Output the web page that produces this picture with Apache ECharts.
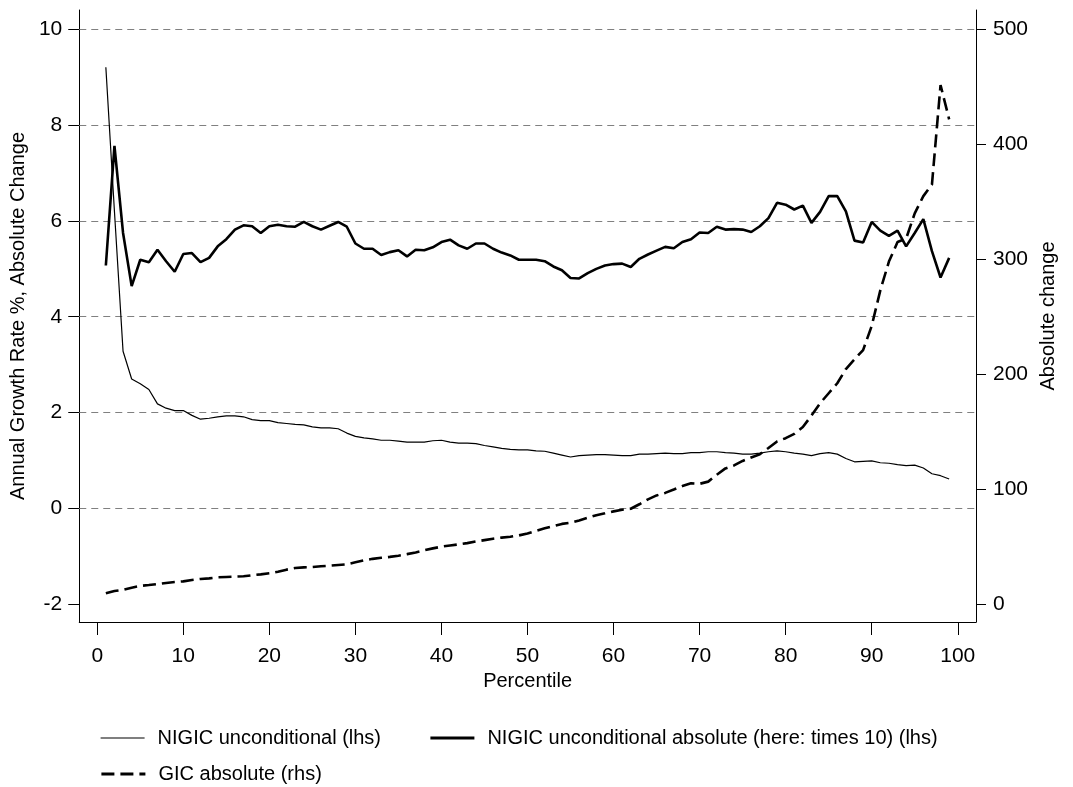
<!DOCTYPE html>
<html>
<head>
<meta charset="utf-8">
<script src="https://cdn.jsdelivr.net/npm/echarts@6/dist/echarts.min.js"></script>
<style>
html,body{margin:0;padding:0;background:#fff;}
#chart{width:1073px;height:787px;}
</style>
</head>
<body>
<div id="chart"></div>
<script>
// Percentiles
const percentiles = [1,2,3,4,5,6,7,8,9,10,11,12,13,14,15,16,17,18,19,20,21,22,23,24,25,26,27,28,29,30,31,32,33,34,35,36,37,38,39,40,41,42,43,44,45,46,47,48,49,50,51,52,53,54,55,56,57,58,59,60,61,62,63,64,65,66,67,68,69,70,71,72,73,74,75,76,77,78,79,80,81,82,83,84,85,86,87,88,89,90,91,92,93,94,95,96,97,98,99];

// NIGIC unconditional (lhs)
const nigicUncond = [9.21,6.2,3.28,2.70,2.60,2.48,2.18,2.09,2.04,2.04,1.94,1.86,1.88,1.91,1.93,1.93,1.91,1.85,1.83,1.83,1.79,1.77,1.75,1.74,1.70,1.68,1.68,1.66,1.57,1.50,1.47,1.45,1.42,1.42,1.40,1.38,1.38,1.38,1.41,1.42,1.38,1.36,1.36,1.35,1.31,1.28,1.25,1.23,1.22,1.22,1.20,1.19,1.15,1.11,1.07,1.10,1.11,1.12,1.12,1.11,1.10,1.10,1.13,1.13,1.14,1.15,1.14,1.14,1.16,1.16,1.18,1.18,1.16,1.15,1.13,1.13,1.15,1.18,1.20,1.18,1.15,1.13,1.10,1.14,1.16,1.13,1.04,0.97,0.98,0.99,0.95,0.94,0.91,0.89,0.90,0.84,0.72,0.68,0.61];

// NIGIC unconditional absolute (times 10) (lhs)
const nigicAbs = [5.07,7.57,5.75,4.64,5.19,5.14,5.40,5.16,4.94,5.31,5.33,5.14,5.23,5.47,5.62,5.82,5.91,5.89,5.75,5.89,5.92,5.89,5.88,5.98,5.89,5.82,5.90,5.98,5.88,5.53,5.42,5.42,5.29,5.35,5.39,5.26,5.40,5.39,5.45,5.56,5.61,5.49,5.42,5.53,5.53,5.42,5.34,5.28,5.19,5.19,5.19,5.16,5.05,4.97,4.81,4.80,4.91,5.00,5.07,5.10,5.11,5.04,5.21,5.30,5.38,5.46,5.43,5.56,5.62,5.76,5.75,5.88,5.82,5.83,5.82,5.77,5.89,6.06,6.38,6.34,6.24,6.32,5.96,6.19,6.52,6.52,6.20,5.59,5.55,5.98,5.80,5.69,5.80,5.47,5.75,6.04,5.37,4.82,5.23];

// GIC absolute (rhs)
const gicAbs = [9.3,11.3,12.2,14.2,15.7,16.5,17.4,18.3,19.1,19.7,20.9,21.8,22.3,23.2,23.5,23.8,24.1,25.0,25.8,26.7,28.1,29.9,31.3,31.9,32.2,32.8,33.3,33.9,34.5,36.3,38.0,39.3,40.2,41.0,42.0,43.4,44.9,46.7,48.4,49.9,50.9,51.9,53.0,54.4,55.6,56.8,57.8,58.5,59.7,61.4,63.7,65.9,67.8,69.7,70.7,72.7,75.0,77.3,78.9,80.6,82.0,82.9,86.8,91.1,94.5,96.7,99.6,102.6,105.0,104.6,106.5,112.5,118.0,120.6,124.5,127.5,130.3,135.8,141.5,144.3,148.0,154.0,164.0,174.7,183.4,192.1,204.5,213.0,221.0,242.0,273.0,298.0,315.0,318.0,340.0,355.0,365.0,451.7,421.8];

// Tick labels
const xTicks = [0,10,20,30,40,50,60,70,80,90,100];
const yLeftTicks = [-2,0,2,4,6,8,10];
const yRightTicks = [0,100,200,300,400,500];
const gridValues = [0,2,4,6,8,10];

const FONT = '"Liberation Sans", Arial, Helvetica, sans-serif';
const pairs = (vals) => percentiles.map((p, i) => [p, vals[i]]);

const chart = echarts.init(document.getElementById('chart'), null, {renderer: 'canvas'});

function legendFor(name, left, top, lineStyle) {
  return {
    orient: 'horizontal',
    left: left,
    top: top,
    data: [name],
    itemWidth: 44,
    itemHeight: 14,
    itemStyle: {opacity: 0},
    lineStyle: lineStyle,
    textStyle: {fontFamily: FONT, fontSize: 20, color: '#000', padding: [0, 0, 0, 8]},
    selectedMode: false
  };
}

const option = {
  backgroundColor: '#ffffff',
  animation: false,
  grid: {left: 77, right: 97, top: 10, bottom: 165, containLabel: false},
  legend: [
    legendFor('NIGIC unconditional (lhs)', 95, 723, {color: '#000', width: 1.2, type: 'solid'}),
    legendFor('NIGIC unconditional absolute (here: times 10) (lhs)', 424, 723, {color: '#000', width: 2.8, type: 'solid'}),
    legendFor('GIC absolute (rhs)', 95, 759, {color: '#000', width: 2.8, type: [13, 6]})
  ],
  xAxis: {
    type: 'value',
    min: -2.09,
    max: 102.12,
    name: 'Percentile',
    nameLocation: 'middle',
    nameGap: 46,
    nameTextStyle: {fontFamily: FONT, fontSize: 20, color: '#000'},
    axisLine: {show: true, onZero: false, lineStyle: {color: '#000', width: 1}},
    axisTick: {show: true, inside: false, length: 13, customValues: xTicks, lineStyle: {color: '#000', width: 1}},
    axisLabel: {customValues: xTicks, fontFamily: FONT, fontSize: 21, color: '#000', margin: 24},
    splitLine: {show: false}
  },
  yAxis: [
    {
      type: 'value',
      position: 'left',
      min: -2.376,
      max: 10.407,
      name: 'Annual Growth Rate %, Absolute Change',
      nameLocation: 'middle',
      nameGap: 48,
      nameTextStyle: {fontFamily: FONT, fontSize: 20, color: '#000'},
      axisLine: {show: true, onZero: false, lineStyle: {color: '#000', width: 1}},
      axisTick: {show: true, inside: false, length: 11, customValues: yLeftTicks, lineStyle: {color: '#000', width: 1}},
      axisLabel: {customValues: yLeftTicks, fontFamily: FONT, fontSize: 21, color: '#000', margin: 17},
      splitLine: {show: false}
    },
    {
      type: 'value',
      position: 'right',
      min: -15.67,
      max: 516.97,
      name: 'Absolute change',
      nameLocation: 'middle',
      nameGap: 62,
      nameTextStyle: {fontFamily: FONT, fontSize: 20, color: '#000'},
      axisLine: {show: true, onZero: false, lineStyle: {color: '#000', width: 1}},
      axisTick: {show: true, inside: false, length: 10, customValues: yRightTicks, lineStyle: {color: '#000', width: 1}},
      axisLabel: {customValues: yRightTicks, fontFamily: FONT, fontSize: 21, color: '#000', margin: 17},
      splitLine: {show: false}
    }
  ],
  series: [
    {
      name: 'NIGIC unconditional (lhs)',
      type: 'line',
      yAxisIndex: 0,
      data: pairs(nigicUncond),
      symbol: 'none',
      z: 3,
      lineStyle: {color: '#000', width: 1.2},
      itemStyle: {color: '#000'},
      markLine: {
        silent: true,
        symbol: 'none',
        z: 1,
        label: {show: false},
        lineStyle: {color: '#808080', width: 1.2, type: [7, 5]},
        data: gridValues.map(v => ({yAxis: v}))
      }
    },
    {
      name: 'NIGIC unconditional absolute (here: times 10) (lhs)',
      type: 'line',
      yAxisIndex: 0,
      data: pairs(nigicAbs),
      symbol: 'none',
      z: 3,
      lineStyle: {color: '#000', width: 2.6},
      itemStyle: {color: '#000'}
    },
    {
      name: 'GIC absolute (rhs)',
      type: 'line',
      yAxisIndex: 1,
      data: pairs(gicAbs),
      symbol: 'none',
      z: 3,
      lineStyle: {color: '#000', width: 2.6, type: [13, 6]},
      itemStyle: {color: '#000'}
    }
  ]
};

chart.setOption(option);
</script>
</body>
</html>
